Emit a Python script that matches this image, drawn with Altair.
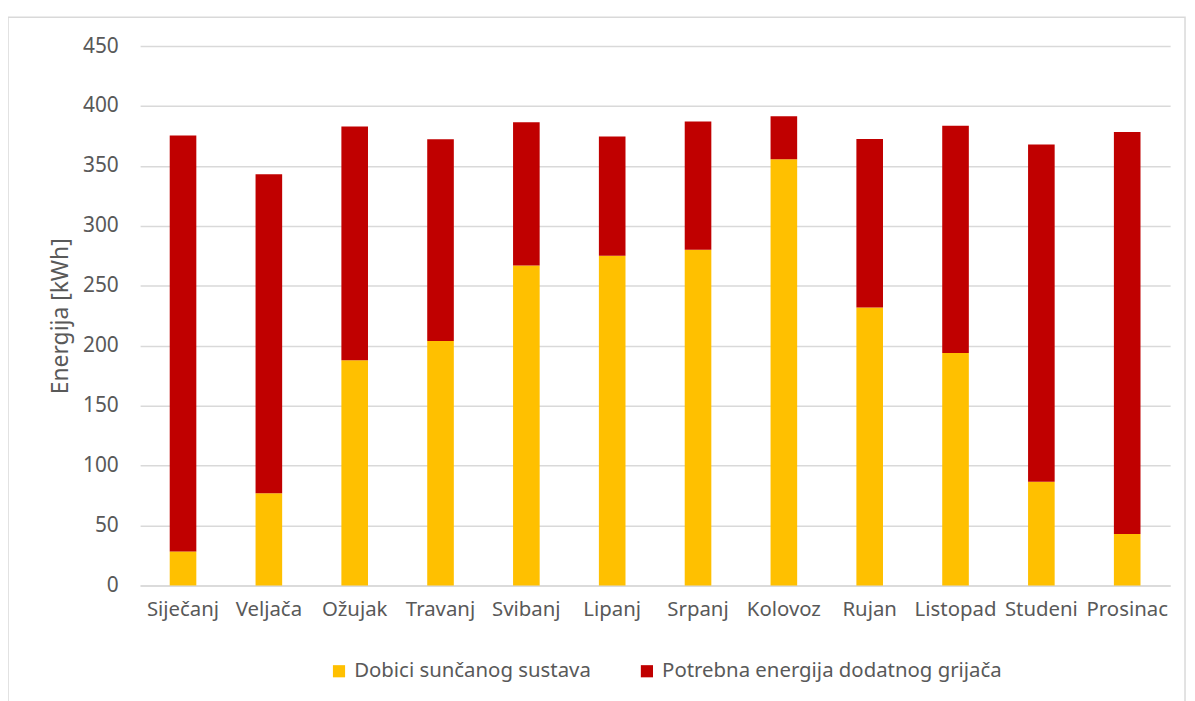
import altair as alt
import pandas as pd

months = ["Siječanj", "Veljača", "Ožujak", "Travanj", "Svibanj", "Lipanj",
          "Srpanj", "Kolovoz", "Rujan", "Listopad", "Studeni", "Prosinac"]
solar = [28.4, 77.0, 188.0, 204.0, 267.0, 275.0, 280.0, 355.7, 232.0, 194.0, 86.5, 43.0]
heater = [347.0, 266.0, 195.0, 168.3, 119.4, 99.5, 107.2, 35.7, 140.6, 189.6, 281.4, 335.4]
series = ["Dobici sunčanog sustava", "Potrebna energija dodatnog grijača"]
colors = ["#FFC000", "#C00000"]

rows = []
for i, m in enumerate(months):
    rows.append({"mjesec": m, "serija": series[0], "vrijednost": solar[i], "red": 0})
    rows.append({"mjesec": m, "serija": series[1], "vrijednost": heater[i], "red": 1})
df = pd.DataFrame(rows)

W, H = 1037, 543
FONT = "Noto Sans"
GREY = "#595959"

bars = alt.Chart(df).mark_bar(width={"band": 0.31}).encode(
    x=alt.X("mjesec:N", sort=months, title=None,
            scale=alt.Scale(paddingInner=0, paddingOuter=0),
            axis=alt.Axis(labelAngle=0, labelFontSize=20.5, labelColor=GREY, labelFont=FONT,
                          labelPadding=14, ticks=False, domainColor="#D9D9D9", domainWidth=1.5)),
    y=alt.Y("vrijednost:Q", stack="zero", title="Energija [kWh]",
            scale=alt.Scale(domain=[0, 450], nice=False),
            axis=alt.Axis(values=list(range(0, 451, 50)), labelFontSize=21, labelColor=GREY,
                          labelFont=FONT, labelPadding=22, ticks=False, domain=False,
                          gridColor="#D9D9D9", gridWidth=1.5,
                          titleFontSize=23, titleFont=FONT, titleColor=GREY,
                          titleFontWeight="normal", titleX=-80, titleY=H / 2,
                          titleAngle=-90, titleAlign="center", titleBaseline="middle")),
    color=alt.Color("serija:N", scale=alt.Scale(domain=series, range=colors), title=None,
                    legend=alt.Legend(orient="none", legendX=190, legendY=H + 76,
                                      direction="horizontal", symbolType="square",
                                      symbolSize=150, symbolStrokeWidth=0,
                                      labelFontSize=20.5, labelColor=GREY, labelFont=FONT,
                                      labelLimit=0, columnPadding=46, labelOffset=5)),
    order=alt.Order("red:Q", sort="ascending"),
)

frame = alt.Chart(pd.DataFrame({"a": [0]})).mark_rect(
    fill=None, stroke="#D9D9D9", strokeWidth=1.5, clip=False
).encode(
    x=alt.value(-133), x2=alt.value(W + 15), y=alt.value(-29), y2=alt.value(H + 120)
)

chart = alt.layer(frame, bars).properties(
    width=W, height=H,
    autosize=alt.AutoSizeParams(type="none"),
    padding={"left": 133, "top": 36, "right": 17, "bottom": 120},
    background="white",
).configure_view(stroke=None)

chart.save("out.html", embed_options={"renderer": "svg", "actions": False})
